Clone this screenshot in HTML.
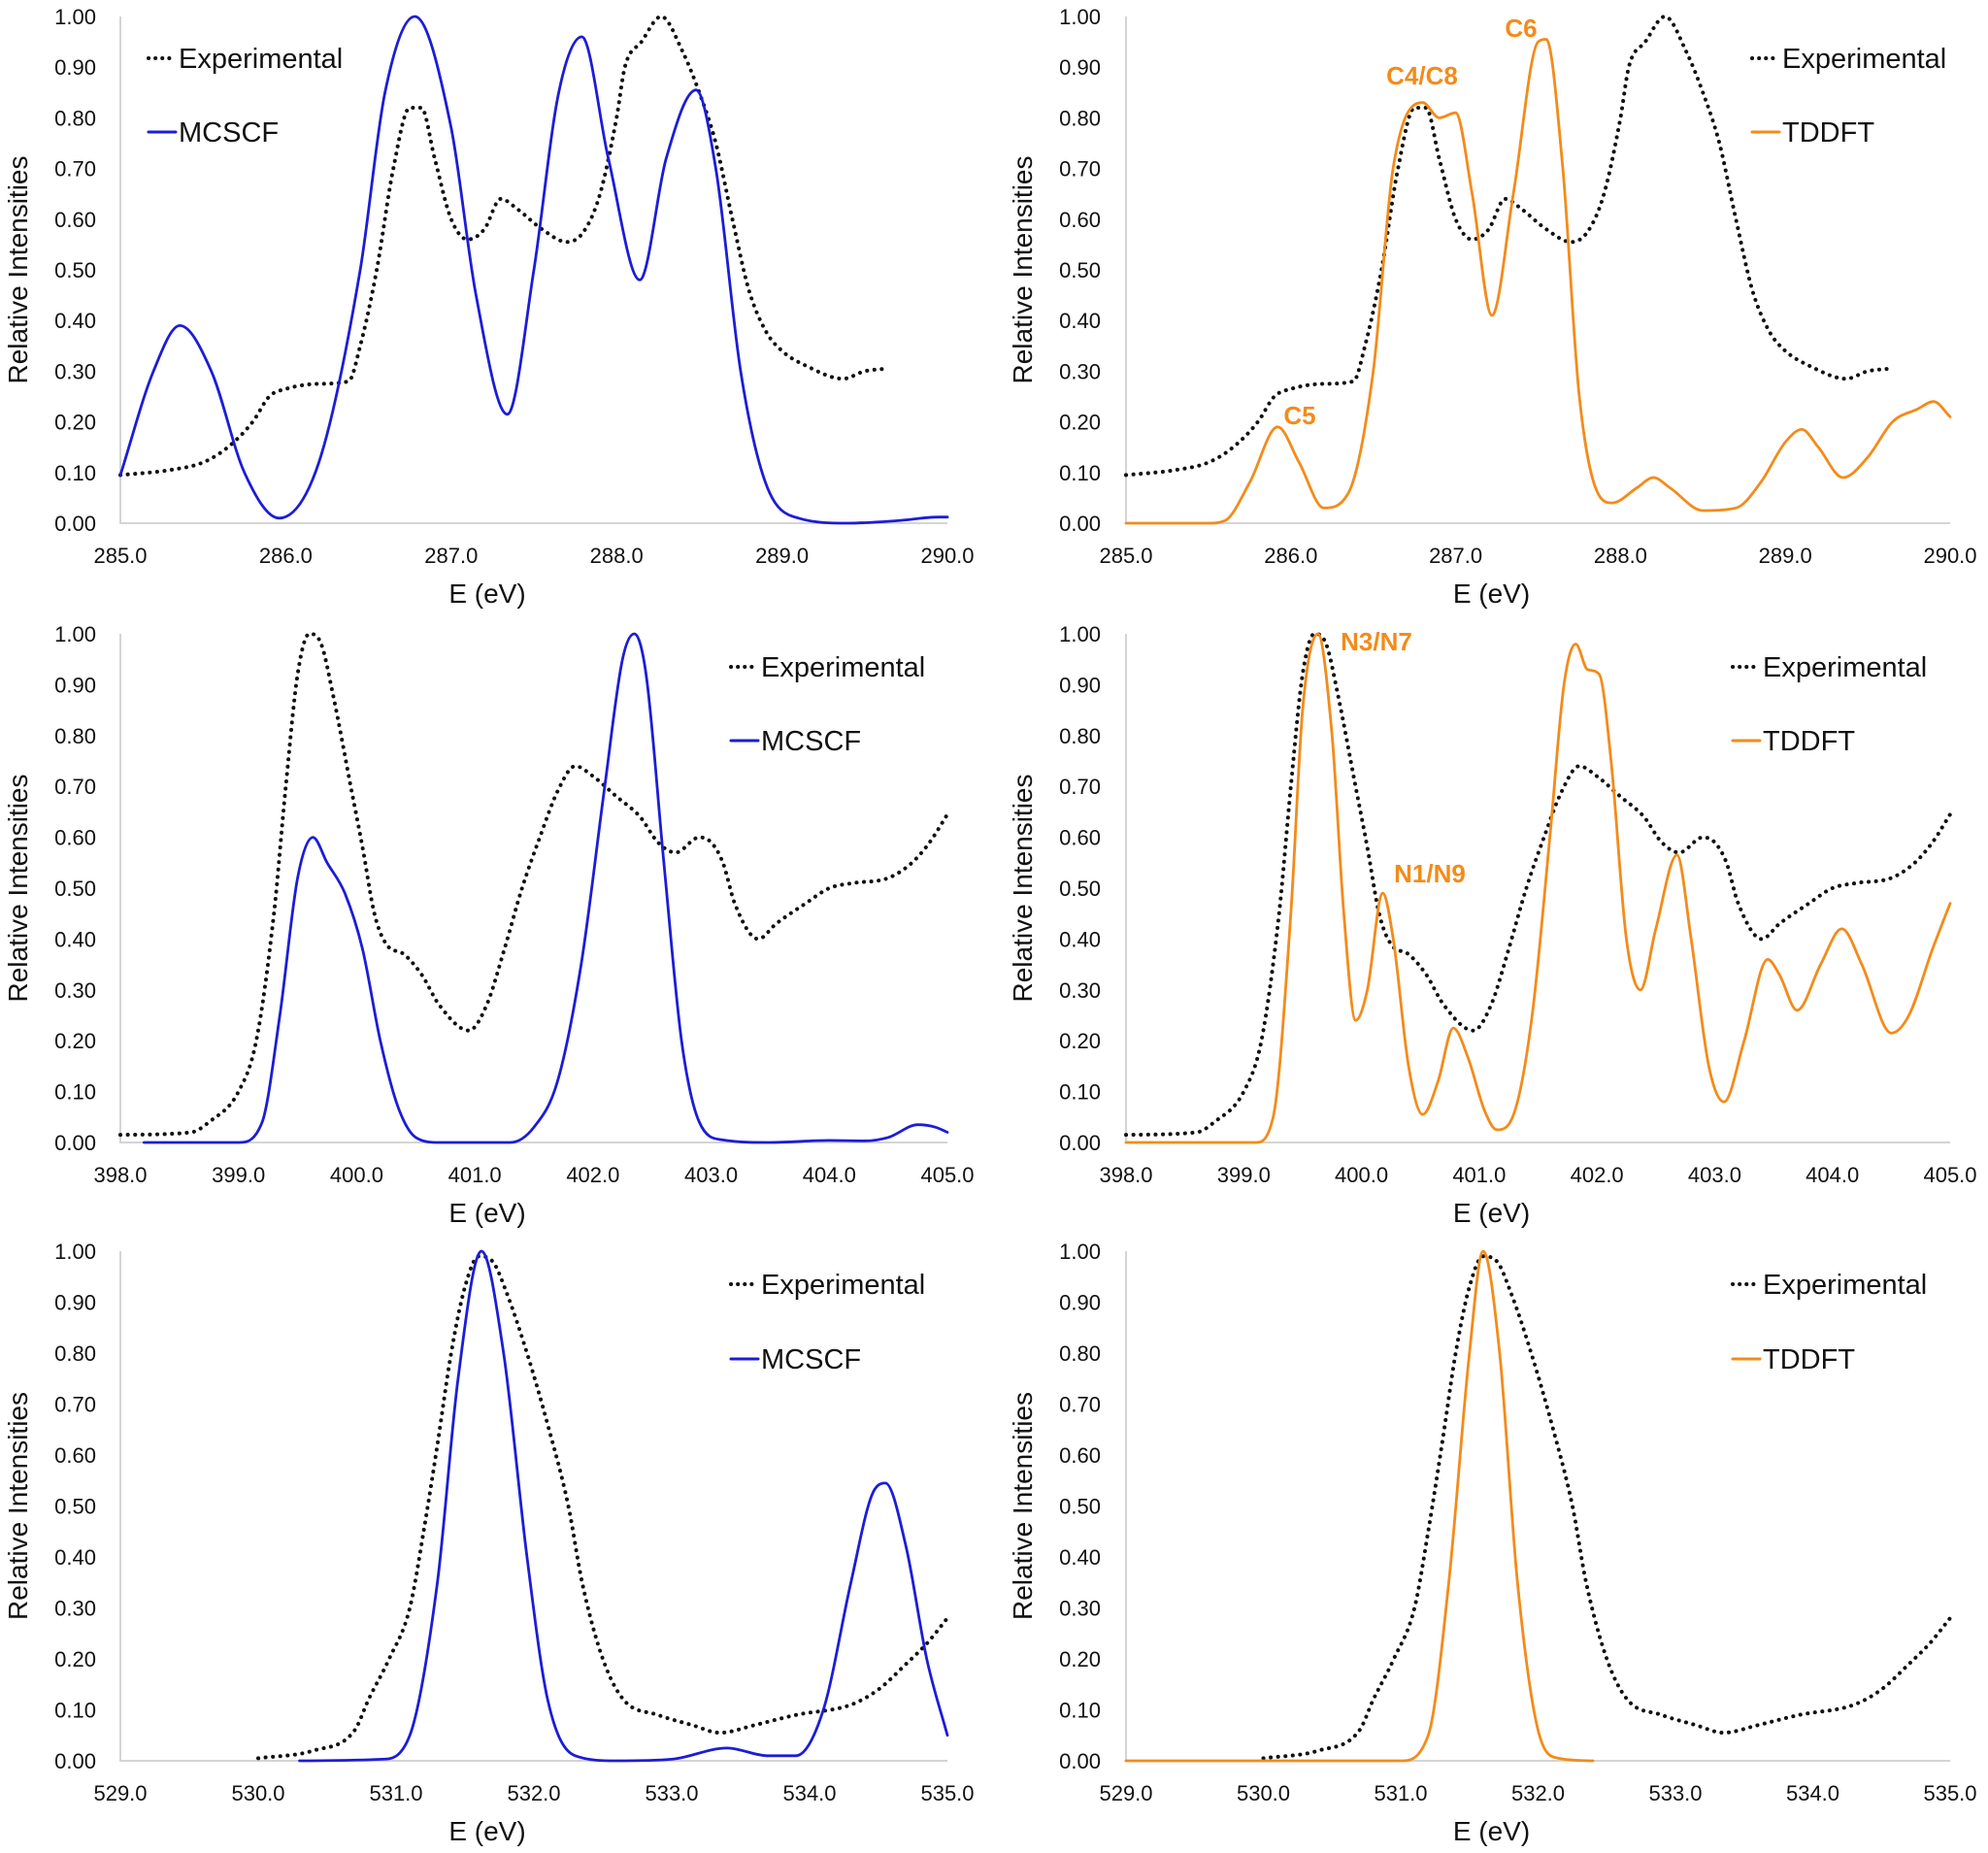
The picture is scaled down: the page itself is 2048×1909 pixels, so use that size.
<!DOCTYPE html>
<html><head><meta charset="utf-8"><style>
html,body{margin:0;padding:0;background:#fff;}
svg{display:block;font-family:"Liberation Sans",Arial,sans-serif;}
</style></head><body>
<svg id="fig" width="2048" height="1909" viewBox="0 0 2048 1909" xmlns="http://www.w3.org/2000/svg"></svg>
<script>
// ---- Data (E in eV, relative intensity) ----
const expC_x=[285,285.3,285.5,285.65,285.8,285.9,286.0,286.2,286.38,286.45,286.55,286.65,286.75,286.82,286.9,287.0,287.1,287.2,287.3,287.4,287.55,287.7,287.8,287.9,288.0,288.05,288.15,288.27,288.4,288.5,288.6,288.7,288.8,288.9,289.0,289.15,289.37,289.5,289.63];
const expC_y=[0.095,0.105,0.12,0.15,0.2,0.25,0.265,0.275,0.28,0.35,0.5,0.7,0.82,0.82,0.72,0.6,0.56,0.58,0.64,0.62,0.58,0.555,0.575,0.65,0.8,0.9,0.95,1.0,0.93,0.85,0.75,0.6,0.46,0.38,0.34,0.31,0.285,0.3,0.305];
const mcC_x=[285.0,285.2,285.36,285.55,285.75,285.96,286.2,286.45,286.6,286.78,287.0,287.15,287.34,287.5,287.65,287.79,287.95,288.14,288.3,288.48,288.6,288.75,288.9,289.1,289.4,289.7,289.95,290];
const mcC_y=[0.095,0.3,0.39,0.3,0.1,0.01,0.12,0.5,0.85,1.0,0.78,0.45,0.215,0.5,0.85,0.96,0.72,0.48,0.72,0.855,0.7,0.3,0.08,0.01,0.0,0.005,0.012,0.012];
const tdC_x=[285,285.5,285.6,285.75,285.92,286.05,286.2,286.35,286.5,286.62,286.8,286.9,287.0,287.1,287.22,287.35,287.5,287.55,287.65,287.75,287.88,287.95,288.1,288.2,288.3,288.5,288.7,288.85,289.0,289.1,289.2,289.35,289.5,289.65,289.8,289.9,290.0];
const tdC_y=[0,0,0.005,0.08,0.19,0.12,0.03,0.06,0.3,0.7,0.83,0.8,0.81,0.65,0.41,0.65,0.95,0.955,0.7,0.25,0.05,0.04,0.07,0.09,0.07,0.025,0.03,0.08,0.16,0.185,0.15,0.09,0.13,0.2,0.225,0.24,0.21];
const expN_x=[398,398.6,398.75,399.0,399.15,399.3,399.4,399.5,399.6,399.7,399.8,399.95,400.05,400.15,400.25,400.4,400.55,400.7,400.95,401.1,401.25,401.4,401.55,401.7,401.85,402.0,402.2,402.4,402.55,402.7,402.9,403.0,403.1,403.2,403.4,403.55,403.8,404.0,404.2,404.5,404.7,404.85,405];
const expN_y=[0.015,0.02,0.04,0.1,0.2,0.45,0.7,0.92,1.0,0.98,0.88,0.7,0.58,0.45,0.39,0.37,0.33,0.27,0.22,0.27,0.38,0.5,0.6,0.69,0.74,0.72,0.68,0.64,0.59,0.57,0.6,0.59,0.55,0.47,0.4,0.43,0.47,0.5,0.51,0.52,0.55,0.59,0.645];
const mcN_x=[398.2,399.0,399.2,399.35,399.5,399.63,399.75,399.9,400.05,400.2,400.35,400.5,400.7,401.3,401.5,401.7,401.9,402.1,402.25,402.35,402.45,402.6,402.75,402.9,403.1,403.5,404.0,404.3,404.5,404.75,404.9,405];
const mcN_y=[0,0,0.04,0.25,0.52,0.6,0.55,0.49,0.38,0.2,0.07,0.01,0,0,0.03,0.12,0.35,0.7,0.95,1.0,0.92,0.55,0.2,0.04,0.005,0,0.004,0.003,0.01,0.035,0.03,0.02];
const tdN_x=[398,399.1,399.25,399.4,399.5,399.63,399.75,399.85,399.95,400.05,400.18,400.27,400.4,400.52,400.65,400.78,400.9,401.05,401.15,401.3,401.45,401.6,401.72,401.82,401.92,402.02,402.12,402.25,402.37,402.5,402.68,402.8,402.95,403.08,403.25,403.45,403.55,403.7,403.9,404.08,404.25,404.5,404.65,404.85,405];
const tdN_y=[0,0,0.05,0.45,0.85,1.0,0.8,0.45,0.24,0.3,0.49,0.4,0.15,0.055,0.12,0.225,0.17,0.06,0.025,0.06,0.25,0.6,0.9,0.98,0.93,0.92,0.75,0.4,0.3,0.42,0.565,0.4,0.15,0.08,0.2,0.36,0.33,0.26,0.35,0.42,0.35,0.215,0.25,0.38,0.47];
const expO_x=[530,530.4,530.7,530.8,530.95,531.1,531.2,531.3,531.4,531.5,531.6,531.7,531.8,531.95,532.1,532.25,532.35,532.5,532.65,532.9,533.15,533.35,533.6,533.9,534.3,534.5,534.7,534.85,535];
const expO_y=[0.005,0.02,0.06,0.12,0.2,0.3,0.45,0.62,0.8,0.93,0.99,0.98,0.92,0.8,0.66,0.5,0.35,0.2,0.12,0.09,0.07,0.055,0.07,0.09,0.11,0.14,0.19,0.23,0.28];
const mcO_x=[530.3,530.9,531.1,531.3,531.45,531.62,531.78,531.95,532.1,532.3,532.6,533.0,533.4,533.7,533.9,534.1,534.3,534.45,534.55,534.7,534.85,535];
const mcO_y=[0,0.003,0.05,0.35,0.75,1.0,0.8,0.4,0.12,0.01,0,0.003,0.025,0.01,0.01,0.1,0.35,0.52,0.545,0.42,0.2,0.05];
const tdO_x=[529,531.0,531.2,531.35,531.5,531.6,531.72,531.85,532.0,532.15,532.4];
const tdO_y=[0,0,0.05,0.35,0.8,1.0,0.8,0.35,0.06,0.005,0];
const yTicks=[0,0.1,0.2,0.3,0.4,0.5,0.6,0.7,0.8,0.9,1.0];
const xTicksC=[285,286,287,288,289,290];
const xTicksN=[398,399,400,401,402,403,404,405];
const xTicksO=[529,530,531,532,533,534,535];

const NS="http://www.w3.org/2000/svg";
const svg=document.getElementById('fig');
function el(tag,attrs,parent){const e=document.createElementNS(NS,tag);for(const k in attrs)e.setAttribute(k,attrs[k]);(parent||svg).appendChild(e);return e;}
const BLUE="#1c1cd8",ORANGE="#f38b1a";
const cols=[{x0:124,x1:976,lab:99,yt:18},{x0:1160,x1:2009,lab:1134,yt:1053}];
const rows=[{t:17,b:539},{t:653,b:1177},{t:1289,b:1814}];
// monotone cubic (Fritsch-Carlson) path, no overshoot
function smooth(p){const n=p.length;const d=[],m=[];
 for(let i=0;i<n-1;i++)d.push((p[i+1][1]-p[i][1])/(p[i+1][0]-p[i][0]));
 m[0]=d[0];m[n-1]=d[n-2];
 for(let i=1;i<n-1;i++){m[i]=(d[i-1]*d[i]<=0)?0:(d[i-1]+d[i])/2;}
 for(let i=0;i<n-1;i++){if(d[i]===0){m[i]=0;m[i+1]=0;continue;}
  const a=m[i]/d[i],b=m[i+1]/d[i],s=a*a+b*b;if(s>9){const t=3/Math.sqrt(s);m[i]=t*a*d[i];m[i+1]=t*b*d[i];}}
 let s="M"+p[0][0].toFixed(1)+","+p[0][1].toFixed(1);
 for(let i=0;i<n-1;i++){const h=(p[i+1][0]-p[i][0])/3;
  s+=" C"+(p[i][0]+h).toFixed(1)+","+(p[i][1]+m[i]*h).toFixed(1)+" "+(p[i+1][0]-h).toFixed(1)+","+(p[i+1][1]-m[i+1]*h).toFixed(1)+" "+p[i+1][0].toFixed(1)+","+p[i+1][1].toFixed(1);}
 return s;}
function panel(name,c,r,xt,series,legend,notes){
 const g=el('g',{});
 
 
 const xmin=xt[0],xmax=xt[xt.length-1];
 const X=v=>c.x0+(v-xmin)/(xmax-xmin)*(c.x1-c.x0);
 const Y=v=>r.b-v*(r.b-r.t);
 const ax=el('path',{d:`M${c.x0},${r.t} V${r.b} H${c.x1}`,fill:'none',stroke:'#d4d4d4','stroke-width':2},g);
 
 
 yTicks.forEach(v=>{const t=el('text',{x:c.lab,y:Y(v)+8,'text-anchor':'end','font-size':22,fill:'#111'},g);t.textContent=v.toFixed(2);
  
  });
 xt.forEach(v=>{const t=el('text',{x:X(v),y:r.b+41,'text-anchor':'middle','font-size':22,fill:'#111'},g);t.textContent=v.toFixed(1);
  
  });
 const xtl=el('text',{x:(c.x0+c.x1)/2-48,y:r.b+82,'text-anchor':'middle','font-size':28,fill:'#111'},g);xtl.textContent='E (eV)';
 
 
 const ytl=el('text',{x:0,y:0,'text-anchor':'middle','font-size':28,fill:'#111',transform:`translate(${c.yt+10},${(r.t+r.b)/2}) rotate(-90)`},g);ytl.textContent='Relative Intensities';
 
 
 series.forEach(s=>{const pts=s.x.map((v,i)=>[X(v),Y(s.y[i])]);
  const p=el('path',{d:smooth(pts),fill:'none',stroke:s.dot?'#111':s.col,'stroke-width':s.dot?4:2.8,'stroke-linecap':'round','stroke-dasharray':s.dot?'0.1,7.5':'none'},g);
  
  });
 legend.forEach(L=>{const ln=el('line',{x1:L.sx,x2:L.sx+28,y1:L.y,y2:L.y,stroke:L.dot?'#111':L.col,'stroke-width':L.dot?4:3,'stroke-linecap':'round','stroke-dasharray':L.dot?'0.1,7':'none'},g);
  
  
  const t=el('text',{x:L.sx+31,y:L.y+10,'font-size':29,fill:'#111'},g);t.textContent=L.txt;
  
  });
 (notes||[]).forEach(n=>{const t=el('text',{x:n[1],y:n[2]+9,'text-anchor':'middle','font-size':26,'font-weight':'bold',fill:ORANGE},g);t.textContent=n[0];
  
  });
}
panel('panel-c-mcscf',cols[0],rows[0],xTicksC,[{x:expC_x,y:expC_y,dot:1,name:'experimental-line'},{x:mcC_x,y:mcC_y,col:BLUE,name:'mcscf-line'}],
 [{sx:153,y:60,dot:1,txt:'Experimental'},{sx:153,y:136,col:BLUE,txt:'MCSCF'}]);
panel('panel-c-tddft',cols[1],rows[0],xTicksC,[{x:expC_x,y:expC_y,dot:1,name:'experimental-line'},{x:tdC_x,y:tdC_y,col:ORANGE,name:'tddft-line'}],
 [{sx:1805,y:60,dot:1,txt:'Experimental'},{sx:1805,y:136,col:ORANGE,txt:'TDDFT'}],
 [['C4/C8',1465,78],['C6',1567,29],['C5',1339,428]]);
panel('panel-n-mcscf',cols[0],rows[1],xTicksN,[{x:expN_x,y:expN_y,dot:1,name:'experimental-line'},{x:mcN_x,y:mcN_y,col:BLUE,name:'mcscf-line'}],
 [{sx:753,y:687,dot:1,txt:'Experimental'},{sx:753,y:763,col:BLUE,txt:'MCSCF'}]);
panel('panel-n-tddft',cols[1],rows[1],xTicksN,[{x:expN_x,y:expN_y,dot:1,name:'experimental-line'},{x:tdN_x,y:tdN_y,col:ORANGE,name:'tddft-line'}],
 [{sx:1785,y:687,dot:1,txt:'Experimental'},{sx:1785,y:763,col:ORANGE,txt:'TDDFT'}],
 [['N3/N7',1418,661],['N1/N9',1473,900]]);
panel('panel-o-mcscf',cols[0],rows[2],xTicksO,[{x:expO_x,y:expO_y,dot:1,name:'experimental-line'},{x:mcO_x,y:mcO_y,col:BLUE,name:'mcscf-line'}],
 [{sx:753,y:1323,dot:1,txt:'Experimental'},{sx:753,y:1400,col:BLUE,txt:'MCSCF'}]);
panel('panel-o-tddft',cols[1],rows[2],xTicksO,[{x:expO_x,y:expO_y,dot:1,name:'experimental-line'},{x:tdO_x,y:tdO_y,col:ORANGE,name:'tddft-line'}],
 [{sx:1785,y:1323,dot:1,txt:'Experimental'},{sx:1785,y:1400,col:ORANGE,txt:'TDDFT'}]);
</script>
</body></html>
